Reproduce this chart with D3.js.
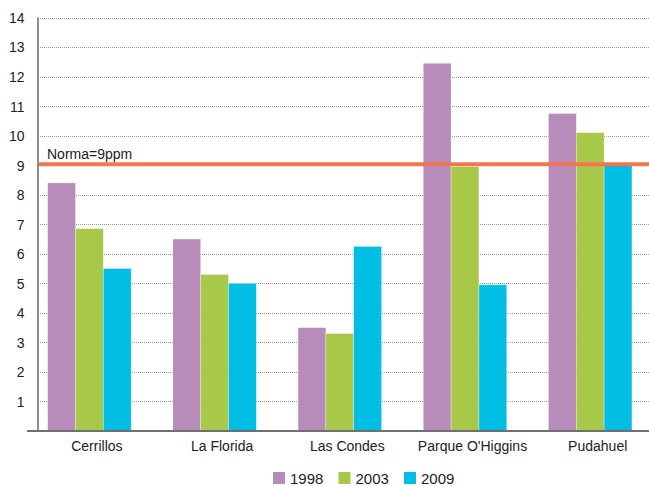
<!DOCTYPE html>
<html>
<head>
<meta charset="utf-8">
<script src="https://cdn.jsdelivr.net/npm/d3@7"></script>
<style>
  html, body { margin: 0; padding: 0; background: #fff; }
  svg { display: block; font-family: "Liberation Sans", Arial, sans-serif; }
</style>
</head>
<body>
<svg id="chart" width="649" height="486"></svg>
<script>
// Comunas monitoreadas
const categories = ["Cerrillos", "La Florida", "Las Condes", "Parque O'Higgins", "Pudahuel"];
// Años de medición
const years = ["1998", "2003", "2009"];
// Concentración (ppm) por año
const values1998 = [8.4, 6.5, 3.5, 12.45, 10.75];
const values2003 = [6.85, 5.3, 3.3, 8.95, 10.1];
const values2009 = [5.5, 5.0, 6.25, 4.95, 9.0];
// Norma de referencia
const normValue = 9;
const normLabel = "Norma=9ppm";
// Ticks del eje Y
const yTicks = d3.range(1, 15);

const colors = { "1998": "#b88cba", "2003": "#a8c84a", "2009": "#00bde3" };
const seriesByYear = { "1998": values1998, "2003": values2003, "2009": values2009 };

const svg = d3.select("#chart");
const W = 649;
const axisX = 38;
const baseY = 431;

const x = d3.scaleBand().domain(categories).range([26.8, 652.8]).paddingInner(0).paddingOuter(0);
const groupW = 83.5;
const xs = d3.scaleBand().domain(years).range([0, groupW]).padding(0);
const y = d3.scaleLinear().domain([0, 14]).range([baseY, 17.5]);

// Líneas de cuadrícula punteadas
svg.append("g").selectAll("line").data(yTicks).join("line")
  .attr("x1", axisX).attr("x2", W)
  .attr("y1", d => Math.round(y(d)) + 0.5).attr("y2", d => Math.round(y(d)) + 0.5)
  .attr("stroke", "#9a9a9a").attr("stroke-width", 1).attr("stroke-dasharray", "1,1");

// Etiquetas del eje Y
const yAxis = d3.axisLeft(y).tickValues(yTicks).tickSize(0).tickPadding(0).tickFormat(d3.format("d"));
const yg = svg.append("g").attr("transform", `translate(24.5,0)`).call(yAxis);
yg.select(".domain").remove();
yg.selectAll("text").attr("font-size", 14).attr("fill", "#222")
  .attr("font-family", "'Liberation Sans', Arial, sans-serif").attr("dy", "0.35em");

// Barras
const groups = svg.append("g").selectAll("g").data(categories).join("g")
  .attr("transform", d => `translate(${x(d) + (x.bandwidth() - groupW) / 2},0)`);
groups.selectAll("rect").data((c, i) => years.map(yr => ({ yr, v: seriesByYear[yr][i] })))
  .join("rect")
  .attr("x", d => xs(d.yr))
  .attr("width", xs.bandwidth())
  .attr("y", d => y(d.v))
  .attr("height", d => baseY - y(d.v))
  .attr("fill", d => colors[d.yr])
  .attr("stroke", "#ffffff").attr("stroke-opacity", 0.5).attr("stroke-width", 0.6);

// Eje Y (línea vertical)
svg.append("line").attr("x1", axisX).attr("x2", axisX).attr("y1", y(14)).attr("y2", baseY)
  .attr("stroke", "#6a6a6a").attr("stroke-width", 1.5);

// Eje X (línea base)
svg.append("line").attr("x1", 27).attr("x2", W).attr("y1", baseY).attr("y2", baseY)
  .attr("stroke", "#707070").attr("stroke-width", 2);

// Etiquetas de categoría (ligeramente desplazadas a la derecha)
const xAxis = d3.axisBottom(x).tickSize(0).tickPadding(0);
const xg = svg.append("g").attr("transform", `translate(7.5,${baseY})`).call(xAxis);
xg.select(".domain").remove();
xg.selectAll("text").attr("font-size", 14).attr("fill", "#222")
  .attr("font-family", "'Liberation Sans', Arial, sans-serif").attr("dy", null).attr("y", 20);

// Línea de la norma
svg.append("line").attr("x1", axisX + 0.75).attr("x2", W)
  .attr("y1", y(normValue) - 1).attr("y2", y(normValue) - 1)
  .attr("stroke", "#ee7650").attr("stroke-width", 4);
svg.append("text").attr("x", 47).attr("y", y(normValue) - 6)
  .attr("font-size", 14).attr("fill", "#222").text(normLabel);

// Leyenda
const legend = svg.append("g").selectAll("g").data(years).join("g")
  .attr("transform", (d, i) => `translate(${273 + i * 65.5},472)`);
legend.append("rect").attr("width", 12).attr("height", 12).attr("fill", d => colors[d]);
legend.append("text").attr("x", 17).attr("y", 11.5).attr("font-size", 15).attr("fill", "#222").text(d => d);
</script>
</body>
</html>
